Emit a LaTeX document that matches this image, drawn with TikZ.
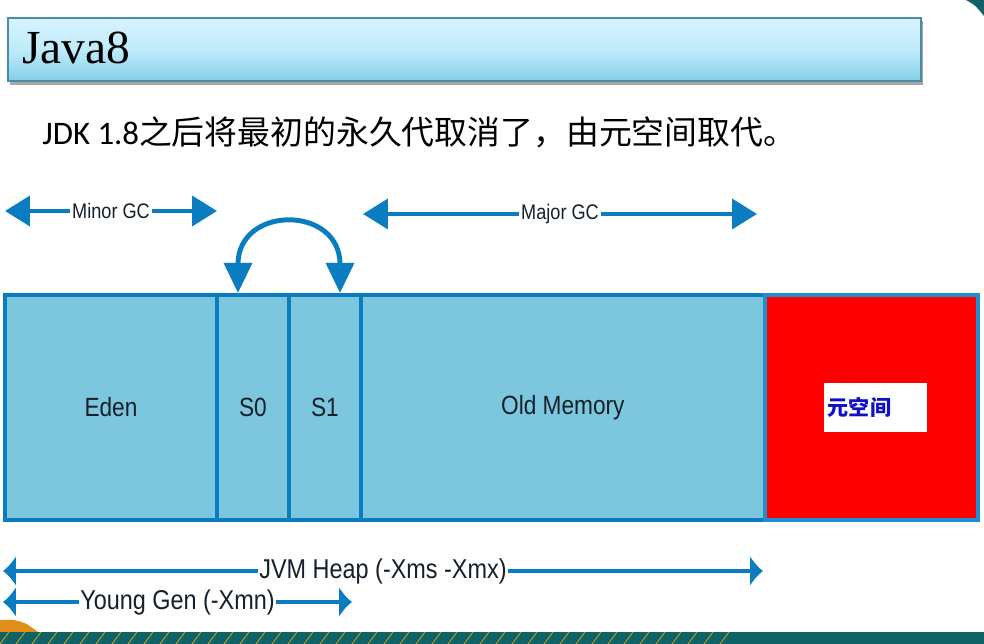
\documentclass[tikz,border=0pt]{standalone}
\usepackage{fontspec}
\newfontfamily\cnfont{Noto Sans CJK SC}
\newfontfamily\calfont{Carlito}
\newfontfamily\serfont{Liberation Serif}
\newfontfamily\lblfont[FakeStretch=0.86]{Liberation Sans}
\usetikzlibrary{positioning,arrows.meta}

\definecolor{heapblue}{HTML}{0A7CC0}
\definecolor{heapfill}{HTML}{7CC7DD}
\definecolor{metaedge}{HTML}{1E8FCF}
\definecolor{lbltext}{HTML}{15202B}
\definecolor{titletop}{HTML}{D9F3FC}
\definecolor{titlemid}{HTML}{BFEBFA}
\definecolor{titlebot}{HTML}{86CEEA}
\definecolor{titleedge}{HTML}{4A8CA2}
\definecolor{slideteal}{HTML}{0F6367}
\definecolor{slideorange}{HTML}{E0901A}
\definecolor{metablue}{HTML}{1010C8}

\tikzset{
  area/.style={draw=heapblue, fill=heapfill, line width=2.6pt, outer sep=0pt,
    minimum height=4.5cm, text=lbltext, font=\lblfont\fontsize{15}{18}\selectfont},
  gcarrow/.style={heapblue, line width=2.2pt, >={Triangle[length=0.5cm,width=0.6cm]}, <->},
  swaparrow/.style={heapblue, line width=2.8pt, >={Triangle[length=0.6cm,width=0.55cm]}, <->},
  sizearrow/.style={heapblue, line width=2.6pt, >={Latex[length=0.26cm,width=0.62cm]}, <->},
  gclabel/.style={fill=white, inner xsep=1pt, inner ysep=1pt, text=lbltext,
    font=\lblfont\fontsize{12}{14}\selectfont},
  sizelabel/.style={fill=white, inner xsep=1pt, inner ysep=1pt, text=lbltext,
    font=\lblfont\fontsize{15.5}{18}\selectfont},
}

\begin{document}
\begin{tikzpicture}[x=0.02cm, y=-0.02cm]
  \useasboundingbox (0,0) rectangle (984,644);

  % slide decoration
  \fill[slideteal] (966,0) .. controls (975,5) .. (984,16) -- (984,0) -- cycle;
  \fill[slideorange] (0,620) -- (14,620) .. controls (26,623) .. (38,632) -- (0,632) -- cycle;
  \fill[slideteal] (0,632) rectangle (984,644);
  \foreach \i in {0,16,...,720}
    \draw[slideorange!80!yellow, line width=0.4pt] (\i,644) -- (\i+9,632);

  % title bar
  \fill[black!35] (10,21) rectangle (923,85);
  \node[draw=titleedge, line width=1pt, top color=titletop, bottom color=titlebot,
    middle color=titlemid, minimum width=18.26cm, minimum height=1.26cm,
    anchor=north west, inner sep=0pt] (title) at (7,17) {};
  \node[anchor=base west, inner sep=0pt, font=\serfont\fontsize{27}{32}\selectfont] (javatxt) at (22,64) {Java8};

  \node[anchor=base west, inner sep=0pt, font=\fontsize{18.7}{22}\selectfont] (intro) at (42,145)
    {\calfont JDK 1.8\cnfont 之后将最初的永久代取消了，由元空间取代。};

  % heap areas
  \node[area, minimum width=4.24cm, anchor=north west] (eden) at (5,295) {Eden};
  \node[area, minimum width=1.44cm, right=0pt of eden] (szero) {S0};
  \node[area, minimum width=1.44cm, right=0pt of szero] (sone) {S1};
  \node[area, minimum width=8.08cm, right=0pt of sone] (old) {Old Memory};
  \node[area, minimum width=4.26cm, right=0pt of old, fill=red, draw=metaedge] (meta) {};
  \node[fill=white, minimum width=2.06cm, minimum height=0.98cm, text width=1.9cm,
    inner xsep=0.08cm, align=left, text=metablue, font=\cnfont\bfseries\fontsize{12}{14}\selectfont]
    (metalbl) at ([xshift=0.08cm] meta.center) {元空间};

  % gc arrows
  \coordinate (minL) at (5,211);
  \coordinate (minR) at (217,211);
  \coordinate (majL) at (363,214);
  \coordinate (majR) at (757,214);
  \coordinate (s0top) at (238,293);
  \coordinate (s1top) at (340,293);
  \draw[gcarrow] (minL) -- (minR) node[midway, gclabel] (minorlbl) {Minor GC};
  \draw[gcarrow] (majL) -- (majR) node[midway, gclabel] (majorlbl) {Major GC};
  \draw[swaparrow] (s0top) .. controls (238,205) and (340,205) .. (s1top);

  % size arrows
  \coordinate (heapL) at (3,571);
  \coordinate (heapR) at (763,571);
  \coordinate (youngL) at (3,602);
  \coordinate (youngR) at (352,602);
  \draw[sizearrow] (heapL) -- (heapR) node[midway, sizelabel] (heaplbl) {JVM Heap (-Xms -Xmx)};
  \draw[sizearrow] (youngL) -- (youngR) node[midway, sizelabel] (younglbl) {Young Gen (-Xmn)};

\end{tikzpicture}
\end{document}
